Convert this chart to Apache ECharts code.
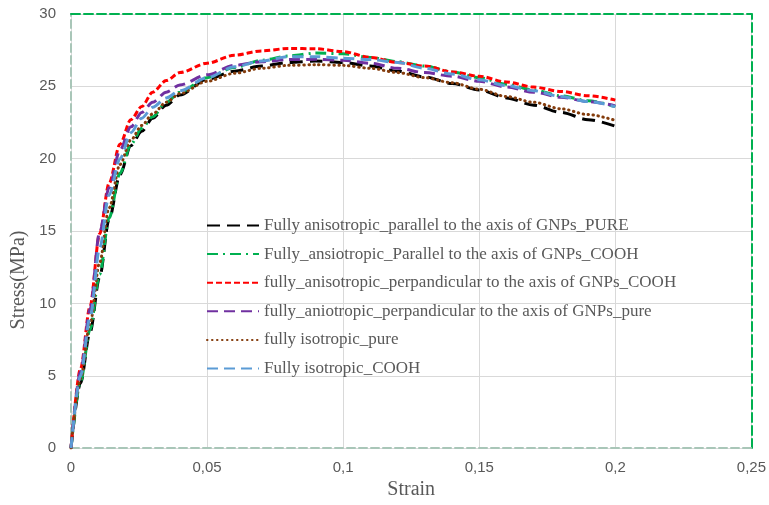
<!DOCTYPE html>
<html>
<head>
<meta charset="utf-8">
<script src="https://cdn.jsdelivr.net/npm/echarts@6/dist/echarts.min.js"></script>
<style>
    html, body { margin: 0; padding: 0; background: #fff; }
    #main { width: 769px; height: 505px; }
</style>
</head>
<body>
<div id="main"></div>
<script>
// strain values shared by all curves
var strain = [0, 0.0035, 0.007, 0.0105, 0.014, 0.018, 0.022, 0.026, 0.03, 0.035, 0.04, 0.05, 0.06, 0.07, 0.08, 0.09,
    0.1, 0.11, 0.12, 0.13, 0.14, 0.15, 0.16, 0.17, 0.18, 0.19, 0.2];

var names = [
    'Fully anisotropic_parallel to the axis of GNPs_PURE',
    'Fully_ansiotropic_Parallel to the axis of GNPs_COOH',
    'fully_anisotropic_perpandicular to the axis of GNPs_COOH',
    'fully_aniotropic_perpandicular to the axis of GNPs_pure',
    'fully isotropic_pure',
    'Fully isotropic_COOH'
];

var parallelPure = [0, 4.5, 8.0, 11.8, 15.8, 18.9, 20.9, 21.9, 22.8, 23.7, 24.4, 25.5, 26.05, 26.4, 26.65, 26.75,
    26.65, 26.4, 26.05, 25.65, 25.2, 24.75, 24.2, 23.7, 23.2, 22.7, 22.25];
var parallelCooh = [0, 4.6, 8.2, 12.0, 15.9, 19.0, 21.0, 22.1, 22.9, 23.9, 24.6, 25.6, 26.3, 26.8, 27.1, 27.3,
    27.25, 27.0, 26.7, 26.4, 26.0, 25.6, 25.15, 24.75, 24.35, 24.0, 23.6];
var perpCooh = [0, 5.5, 9.8, 14.8, 18.3, 21.0, 22.7, 23.6, 24.6, 25.4, 25.95, 26.6, 27.15, 27.45, 27.62, 27.6,
    27.4, 27.0, 26.65, 26.4, 26.0, 25.7, 25.3, 24.95, 24.65, 24.35, 24.05];
var perpPure = [0, 5.3, 9.6, 14.9, 18.0, 20.6, 22.2, 23.2, 23.9, 24.6, 25.1, 25.8, 26.45, 26.7, 26.85, 26.87,
    26.8, 26.6, 26.25, 25.95, 25.7, 25.35, 24.95, 24.6, 24.25, 23.95, 23.65];
var isoPure = [0, 4.8, 8.6, 12.8, 16.6, 19.6, 21.3, 22.3, 23.1, 23.9, 24.5, 25.35, 25.9, 26.25, 26.45, 26.5,
    26.45, 26.25, 25.95, 25.6, 25.25, 24.8, 24.3, 23.9, 23.45, 23.05, 22.65];
var isoCooh = [0, 5.0, 9.0, 13.8, 17.5, 20.0, 21.8, 22.8, 23.55, 24.2, 24.7, 25.6, 26.35, 26.75, 27.05, 27.05,
    26.95, 26.85, 26.65, 26.25, 25.85, 25.45, 25.05, 24.7, 24.3, 23.95, 23.6];

var xTicks = [0, 0.05, 0.1, 0.15, 0.2, 0.25];
var yTicks = [0, 5, 10, 15, 20, 25, 30];

function pairs(ys) {
    var out = [];
    for (var i = 0; i < strain.length; i++) {
        out.push([strain[i], ys[i]]);
    }
    return out;
}

function makeSeries(name, ys, color, width, dash, cap) {
    return {
        name: name,
        type: 'line',
        data: pairs(ys),
        showSymbol: false,
        symbol: 'none',
        smooth: 0.3,
        smoothMonotone: 'x',
        lineStyle: {color: color, width: width, type: dash, cap: cap || 'butt'},
        itemStyle: {color: color}
    };
}

var dashedAxis = {show: true, onZero: false, lineStyle: {color: '#a9c6b8', width: 2, type: [8, 4]}};
var greenAxis = {show: true, onZero: false, lineStyle: {color: '#00b050', width: 2, type: [9, 4]}};

var myChart = echarts.init(document.getElementById('main'));

var option = {
    animation: false,
    grid: {
        left: 71,
        right: 16,
        top: 14,
        bottom: 44
    },
    legend: {
        orient: 'vertical',
        left: 201,
        top: 212,
        itemWidth: 52,
        itemHeight: 14,
        itemGap: 11.6,
        itemStyle: {opacity: 0},
        textStyle: {fontFamily: 'Liberation Serif', fontSize: 17, color: '#595959'},
        data: names
    },
    xAxis: [{
        type: 'value',
        min: xTicks[0],
        max: xTicks[xTicks.length - 1],
        interval: 0.05,
        name: 'Strain',
        nameLocation: 'middle',
        nameGap: 30,
        nameTextStyle: {fontFamily: 'Liberation Serif', fontSize: 20, color: '#595959'},
        axisLine: dashedAxis,
        axisTick: {show: false},
        axisLabel: {
            margin: 12,
            fontFamily: 'Liberation Sans',
            fontSize: 15,
            color: '#595959',
            formatter: function (v) {
                return String(Math.round(v * 100) / 100).replace('.', ',');
            }
        },
        splitLine: {show: true, lineStyle: {color: '#d9d9d9', width: 1}}
    }, {
        // top border
        type: 'value',
        position: 'top',
        min: xTicks[0],
        max: xTicks[xTicks.length - 1],
        interval: 0.05,
        axisLine: greenAxis,
        axisTick: {show: false},
        axisLabel: {show: false},
        splitLine: {show: false}
    }],
    yAxis: [{
        type: 'value',
        min: yTicks[0],
        max: yTicks[yTicks.length - 1],
        interval: 5,
        axisLine: dashedAxis,
        axisTick: {show: false},
        axisLabel: {margin: 15, fontFamily: 'Liberation Sans', fontSize: 15, color: '#595959'},
        splitLine: {show: true, lineStyle: {color: '#d9d9d9', width: 1}}
    }, {
        // right border
        type: 'value',
        position: 'right',
        min: yTicks[0],
        max: yTicks[yTicks.length - 1],
        interval: 5,
        axisLine: greenAxis,
        axisTick: {show: false},
        axisLabel: {show: false},
        splitLine: {show: false}
    }],
    graphic: [{
        type: 'text',
        x: 19,
        y: 280,
        rotation: Math.PI / 2,
        style: {
            text: 'Stress(MPa)',
            font: '20px "Liberation Serif"',
            fill: '#595959',
            align: 'center',
            verticalAlign: 'middle'
        }
    }],
    series: [
        makeSeries(names[0], parallelPure, '#000000', 3, [13, 7]),
        makeSeries(names[1], parallelCooh, '#00b050', 3, [11, 5, 2, 5]),
        makeSeries(names[2], perpCooh, '#ff0000', 3, [6, 3]),
        makeSeries(names[3], perpPure, '#7030a0', 3, [11, 6]),
        makeSeries(names[4], isoPure, '#843c0c', 3, [0.5, 4.5], 'round'),
        makeSeries(names[5], isoCooh, '#5b9bd5', 3, [11, 6])
    ]
};

myChart.setOption(option);
</script>
</body>
</html>
